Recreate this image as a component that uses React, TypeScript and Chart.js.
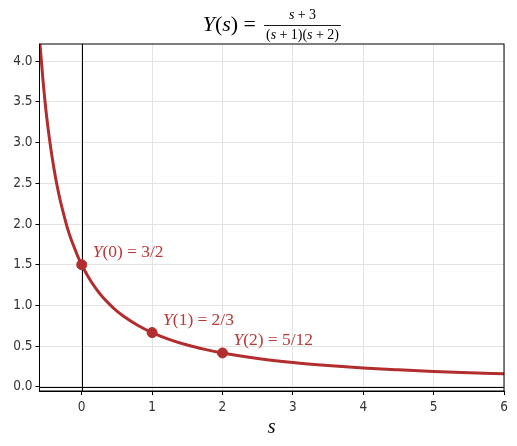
import React, { useEffect, useRef } from 'react';
import { Chart, ChartOptions, Plugin, registerables } from 'chart.js';

Chart.register(...registerables);

// Points read along the curve Y(s)
const curveS = [-0.6, -0.59, -0.55, -0.5, -0.45, -0.4, -0.35, -0.3, -0.25, -0.2, -0.15, -0.1, -0.05, 0, 0.1, 0.2, 0.3, 0.4, 0.5, 0.6, 0.8, 1, 1.25, 1.5, 1.75, 2, 2.5, 3, 3.5, 4, 4.5, 5, 5.5, 6];
const curveY = [4.25, 4.17, 3.76, 3.33, 2.99, 2.71, 2.47, 2.27, 2.1, 1.94, 1.81, 1.7, 1.59, 1.5, 1.34, 1.21, 1.1, 1.01, 0.93, 0.865, 0.754, 0.667, 0.581, 0.514, 0.461, 0.417, 0.349, 0.3, 0.263, 0.233, 0.21, 0.19, 0.174, 0.161];

// Marked points and their labels
const markS = [0, 1, 2];
const markY = [1.5, 0.667, 0.417];
const markLabels = ['Y(0) = 3/2', 'Y(1) = 2/3', 'Y(2) = 5/12'];

const xTicks = [0, 1, 2, 3, 4, 5, 6];
const yTicks = [0, 0.5, 1, 1.5, 2, 2.5, 3, 3.5, 4];

const RED = '#b22d2d';
const MATH = '"Liberation Serif", "DejaVu Serif", serif';
const TICK = '"DejaVu Sans Condensed", "Liberation Sans Narrow", "DejaVu Sans", sans-serif';

// lays out a little math string: letters italic, the rest upright, space round = and +
function mathRun(ctx: CanvasRenderingContext2D, text: string, x: number, y: number, size: number, color: string | null) {
    ctx.save();
    ctx.fillStyle = color ?? '#000';
    ctx.textBaseline = 'alphabetic';
    ctx.textAlign = 'left';
    let cx = x;
    for (const ch of text) {
        if (ch === ' ') continue;
        const italic = /[A-Za-z]/.test(ch);
        const op = ch === '=' || ch === '+';
        ctx.font = `${italic ? 'italic ' : ''}${size}px ${MATH}`;
        if (op) cx += size * 0.24;
        if (color) ctx.fillText(ch, cx, y);
        cx += ctx.measureText(ch).width;
        if (op) cx += size * 0.24;
    }
    ctx.restore();
    return cx - x;
}

const decorPlugin: Plugin = {
    id: 'decor',
    beforeDatasetsDraw(chart) {
        const { ctx, chartArea, scales } = chart;
        const x0 = Math.round(scales.x.getPixelForValue(0)) + 0.5;
        const y0 = Math.round(scales.y.getPixelForValue(0)) + 0.5;
        ctx.save();
        ctx.strokeStyle = '#000';
        ctx.lineWidth = 1;
        ctx.beginPath();
        ctx.moveTo(x0, chartArea.top);
        ctx.lineTo(x0, chartArea.bottom);
        ctx.moveTo(chartArea.left, y0);
        ctx.lineTo(chartArea.right, y0);
        ctx.stroke();
        ctx.restore();
    },
    afterDatasetsDraw(chart) {
        const { ctx, chartArea, scales } = chart;
        ctx.save();
        ctx.strokeStyle = '#000';
        ctx.lineWidth = 1;
        ctx.strokeRect(chartArea.left, chartArea.top, chartArea.right - chartArea.left, chartArea.bottom - chartArea.top);
        ctx.restore();

        // labels next to the marked points
        markS.forEach((s, i) => {
            const px = scales.x.getPixelForValue(s);
            const py = scales.y.getPixelForValue(markY[i]);
            mathRun(ctx, markLabels[i], px + 11, py - 8, 17.5, '#bb3838');
        });

        // title: Y(s) = (s+3)/((s+1)(s+2))
        const lhs = 'Y(s) =';
        const num = 's + 3';
        const den = '(s + 1)(s + 2)';
        const lw = mathRun(ctx, lhs, 0, 0, 22, null);
        const dw = mathRun(ctx, den, 0, 0, 14, null);
        const nw = mathRun(ctx, num, 0, 0, 14, null);
        const fw = dw + 4;
        const gap = 3;
        const total = lw + gap + fw;
        const cx = (chartArea.left + chartArea.right) / 2;
        const left = cx - total / 2;
        mathRun(ctx, lhs, left, 31, 22, '#000');
        const fl = left + lw + gap;
        ctx.save();
        ctx.strokeStyle = '#000';
        ctx.lineWidth = 0.9;
        ctx.beginPath();
        ctx.moveTo(fl, 25.5);
        ctx.lineTo(fl + fw, 25.5);
        ctx.stroke();
        ctx.restore();
        mathRun(ctx, num, fl + (fw - nw) / 2, 19, 14, '#000');
        mathRun(ctx, den, fl + 2, 39, 14, '#000');

        // x-axis label
        ctx.save();
        ctx.fillStyle = '#000';
        ctx.font = `italic 20px ${MATH}`;
        ctx.textAlign = 'center';
        ctx.textBaseline = 'alphabetic';
        ctx.fillText('s', cx, 433);
        ctx.restore();
    },
};

const App: React.FC = () => {
    const chartRef = useRef<HTMLCanvasElement | null>(null);

    useEffect(() => {
        if (!chartRef?.current) return;

        const chartInstance = Chart.getChart(chartRef.current);
        if (chartInstance) chartInstance.destroy();

        const newChart = new Chart(chartRef.current, {
            type: 'scatter',
            data: {
                datasets: [
                    {
                        label: 'Y(s)',
                        data: curveS.map((s, i) => ({ x: s, y: curveY[i] })),
                        showLine: true,
                        borderColor: RED,
                        borderWidth: 3,
                        pointRadius: 0,
                        cubicInterpolationMode: 'monotone',
                        order: 2,
                    },
                    {
                        label: 'points',
                        data: markS.map((s, i) => ({ x: s, y: markY[i] })),
                        backgroundColor: RED,
                        borderColor: RED,
                        pointRadius: 5,
                        showLine: false,
                        order: 1,
                    },
                ],
            },
            options: {
                animation: false,
                responsive: true,
                maintainAspectRatio: false,
                layout: { padding: { top: 44, right: 13, left: 0, bottom: 0 } },
                plugins: {
                    legend: { display: false },
                    tooltip: { enabled: false },
                    title: { display: false },
                },
                scales: {
                    x: {
                        type: 'linear',
                        min: -0.6,
                        max: 6,
                        afterBuildTicks: (axis: any) => {
                            axis.ticks = xTicks.map((v) => ({ value: v }));
                        },
                        afterFit: (axis: any) => {
                            axis.height = 55;
                        },
                        grid: { color: '#e3e3e3', tickColor: '#000', tickLength: 4, lineWidth: 1 },
                        border: { display: true, color: '#000', width: 1 },
                        ticks: {
                            color: '#333',
                            font: { family: TICK, size: 13.5 },
                            padding: 4,
                            maxRotation: 0,
                            callback: (v: any) => String(v),
                        },
                    },
                    y: {
                        type: 'linear',
                        min: -0.05,
                        max: 4.21,
                        afterBuildTicks: (axis: any) => {
                            axis.ticks = yTicks.map((v) => ({ value: v }));
                        },
                        afterFit: (axis: any) => {
                            axis.width = 39.5;
                        },
                        grid: { color: '#e3e3e3', tickColor: '#000', tickLength: 4, lineWidth: 1 },
                        border: { display: true, color: '#000', width: 1 },
                        ticks: {
                            color: '#333',
                            font: { family: TICK, size: 13.5 },
                            padding: 3,
                            callback: (v: any) => Number(v).toFixed(1),
                        },
                    },
                },
            } as ChartOptions,
            plugins: [decorPlugin],
        });

        return () => {
            newChart.destroy();
        };
    }, []);

    return (
        <div style={{ position: 'absolute', left: 0, top: 0, width: 517, height: 446, background: '#fff' }}>
            <canvas ref={chartRef} />
        </div>
    );
};

export default App;
